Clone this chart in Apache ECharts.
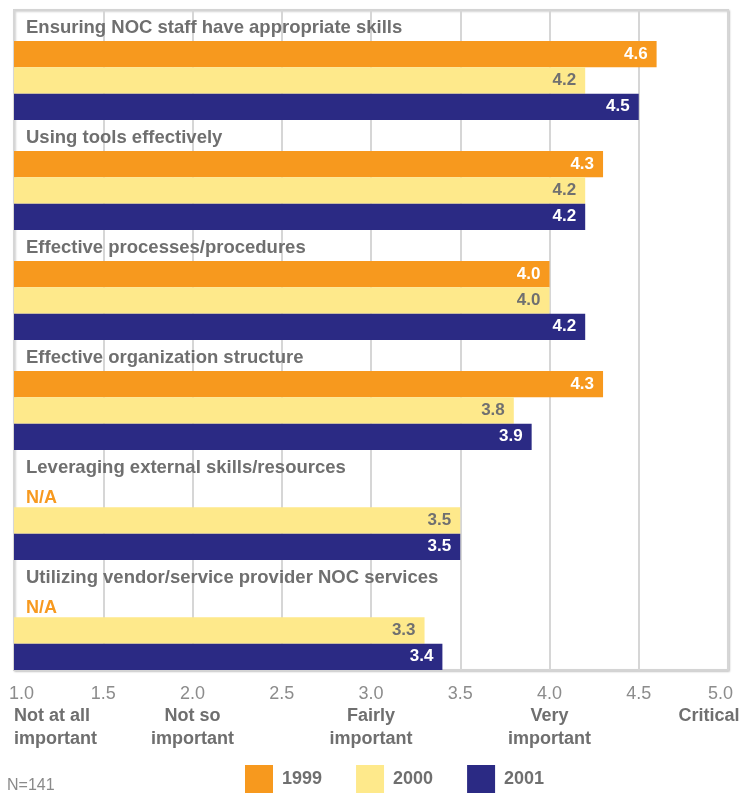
<!DOCTYPE html>
<html>
<head>
<meta charset="utf-8">
<script src="https://cdn.jsdelivr.net/npm/echarts@6/dist/echarts.min.js"></script>
<style>
  html, body { margin: 0; padding: 0; background: #ffffff; }
  #chart { width: 747px; height: 793px; }
</style>
</head>
<body>
<div id="chart"></div>
<script>
// Survey items, top to bottom
const categories = [
  'Ensuring NOC staff have appropriate skills',
  'Using tools effectively',
  'Effective processes/procedures',
  'Effective organization structure',
  'Leveraging external skills/resources',
  'Utilizing vendor/service provider NOC services'
];

const years = ['1999', '2000', '2001'];

// Mean importance ratings (null = not asked that year)
const values1999 = [4.6, 4.3, 4.0, 4.3, null, null];
const values2000 = [4.2, 4.2, 4.0, 3.8, 3.5, 3.3];
const values2001 = [4.5, 4.2, 4.2, 3.9, 3.5, 3.4];

// Rating scale
const scaleMin = 1.0;
const scaleMax = 5.0;
const scaleStep = 0.5;
const scaleWords = {
  1: ['Not at all', 'important'],
  2: ['Not so', 'important'],
  3: ['Fairly', 'important'],
  4: ['Very', 'important'],
  5: ['Critical']
};

const sampleNote = 'N=141';

const COLORS = { y1999: '#F7991E', y2000: '#FEE98B', y2001: '#2B2A84' };
const TEXT_GRAY = '#6f6f6f';
const FONT = '"Liberation Sans", Arial, sans-serif';
const BAR_W = 26.3;
const TITLE_ROW_W = 31;

const chart = echarts.init(document.getElementById('chart'), null, { renderer: 'canvas' });

function valueLabel(color) {
  return {
    show: true,
    position: 'insideRight',
    distance: 9,
    color: color,
    fontFamily: FONT,
    fontSize: 17,
    fontWeight: 'bold',
    formatter: p => Number(p.value).toFixed(1)
  };
}

const data1999 = values1999.map(v => v == null ? {
  value: scaleMin,
  itemStyle: { color: 'rgba(0,0,0,0)' },
  label: {
    show: true,
    position: 'right',
    distance: 12,
    offset: [0, 4],
    color: COLORS.y1999,
    fontSize: 18,
    formatter: 'N/A'
  }
} : v);

const hiddenAxisParts = {
  axisLine: { show: false },
  axisTick: { show: false }
};

const option = {
  backgroundColor: '#ffffff',
  animation: false,
  textStyle: { fontFamily: FONT },
  grid: {
    left: 14, right: 19, top: 10, bottom: 123,
    containLabel: false,
    outerBoundsMode: 'none',
    show: true,
    backgroundColor: '#ffffff',
    borderColor: '#d4d4d4',
    borderWidth: 2,
    shadowColor: 'rgba(0,0,0,0.18)',
    shadowBlur: 2,
    shadowOffsetX: 1,
    shadowOffsetY: 1
  },
  title: {
    text: sampleNote,
    left: 7,
    top: 778,
    padding: 0,
    textStyle: { fontFamily: FONT, fontSize: 16, fontWeight: 'normal', color: '#8a8a8a' }
  },
  legend: {
    data: years,
    left: 245,
    top: 765,
    padding: 0,
    itemWidth: 28,
    itemHeight: 28,
    itemGap: 34,
    icon: 'rect',
    selectedMode: false,
    textStyle: {
      fontFamily: FONT, fontSize: 18, fontWeight: 'bold', color: TEXT_GRAY,
      padding: [2, 0, 0, 4]
    }
  },
  xAxis: [
    {
      // numeric scale with the vertical grid lines
      type: 'value',
      position: 'bottom',
      min: scaleMin,
      max: scaleMax,
      interval: scaleStep,
      ...hiddenAxisParts,
      splitLine: { show: true, lineStyle: { color: '#d6d6d6', width: 2 } },
      axisLabel: {
        show: true,
        showMinLabel: true,
        showMaxLabel: true,
        hideOverlap: false,
        margin: 13,
        formatter: function (value) {
          const num = value.toFixed(1);
          if (value === scaleMin) return '{vl|' + num + '}';
          if (value === scaleMax) return '{vr|' + num + '}';
          return '{v|' + num + '}';
        },
        rich: {
          v: { fontFamily: FONT, fontSize: 18, color: '#8c8c8c', lineHeight: 22 },
          vl: { fontFamily: FONT, fontSize: 18, color: '#8c8c8c', lineHeight: 22, padding: [0, 0, 0, 15] },
          vr: { fontFamily: FONT, fontSize: 18, color: '#8c8c8c', lineHeight: 22, padding: [0, 15, 0, 0] }
        }
      }
    },
    {
      // verbal anchors of the rating scale
      type: 'value',
      position: 'bottom',
      offset: 0,
      min: scaleMin,
      max: scaleMax,
      interval: 1,
      ...hiddenAxisParts,
      splitLine: { show: false },
      axisLabel: {
        show: true,
        showMinLabel: true,
        showMaxLabel: true,
        hideOverlap: false,
        alignMinLabel: 'left',
        margin: 35,
        formatter: function (value) {
          const words = scaleWords[value] || [];
          const style = value === scaleMax ? 'dr' : 'd';
          return words.map(w => '{' + style + '|' + w + '}').join('\n');
        },
        rich: {
          d: { fontFamily: FONT, fontSize: 18, fontWeight: 'bold', color: TEXT_GRAY, lineHeight: 23 },
          dr: { fontFamily: FONT, fontSize: 18, fontWeight: 'bold', color: TEXT_GRAY, lineHeight: 23, padding: [0, 38, 0, 0] }
        }
      }
    }
  ],
  yAxis: {
    type: 'category',
    data: categories,
    inverse: true,
    show: false
  },
  series: [
    {
      // heading row of each group; the item name is written as its label
      name: 'heading',
      type: 'bar',
      barWidth: TITLE_ROW_W,
      barGap: 0,
      barCategoryGap: 0,
      clip: false,
      silent: true,
      itemStyle: { color: 'rgba(0,0,0,0)' },
      label: {
        show: true,
        position: 'right',
        distance: 12,
        offset: [0, 2],
        color: TEXT_GRAY,
        fontFamily: FONT,
        fontSize: 18.5,
        fontWeight: 'bold',
        formatter: p => categories[p.dataIndex]
      },
      data: categories.map(() => scaleMin)
    },
    {
      name: years[0],
      type: 'bar',
      barWidth: BAR_W,
      barGap: 0,
      barCategoryGap: 0,
      itemStyle: { color: COLORS.y1999 },
      label: valueLabel('#ffffff'),
      data: data1999
    },
    {
      name: years[1],
      type: 'bar',
      barWidth: BAR_W,
      barGap: 0,
      barCategoryGap: 0,
      itemStyle: { color: COLORS.y2000 },
      label: valueLabel('#707070'),
      data: values2000
    },
    {
      name: years[2],
      type: 'bar',
      barWidth: BAR_W,
      barGap: 0,
      barCategoryGap: 0,
      itemStyle: { color: COLORS.y2001 },
      label: valueLabel('#ffffff'),
      data: values2001
    }
  ]
};

chart.setOption(option);
</script>
</body>
</html>
